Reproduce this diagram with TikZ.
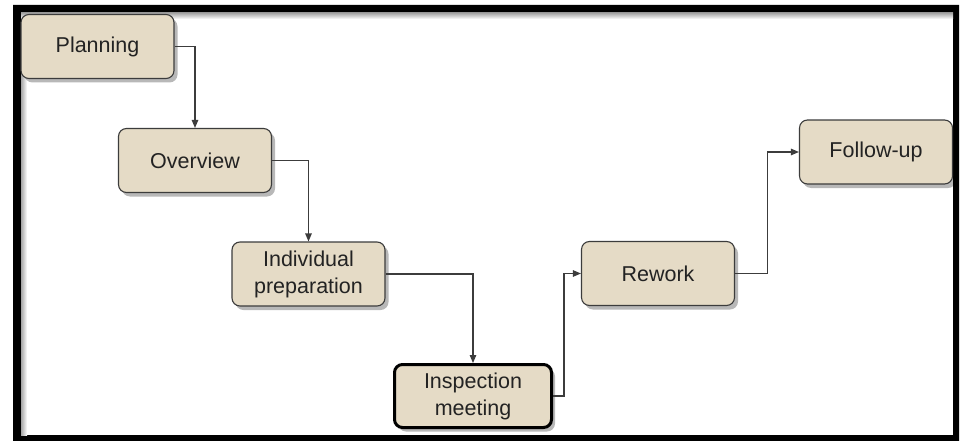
\documentclass[tikz,border=0pt]{standalone}
\usepackage{fontspec}
\setmainfont{Liberation Sans}
\usetikzlibrary{arrows.meta,shadows}
\definecolor{boxfill}{RGB}{229,219,198}
\definecolor{boxline}{RGB}{60,60,60}
\definecolor{txt}{RGB}{35,35,35}
\begin{document}
\begin{tikzpicture}[x=1pt,y=-1pt,
  stagebox/.style={draw=boxline, line width=1.1pt, fill=boxfill, rounded corners=8pt,
    minimum width=153pt, minimum height=64pt, inner sep=0pt, align=center,
    text=txt, font=\fontsize{21.5}{27}\selectfont,
    drop shadow={shadow xshift=3.5pt, shadow yshift=-4pt, fill=black, opacity=0.28}},
  keybox/.style={stagebox, draw=black, line width=3pt, minimum width=157pt, minimum height=63pt},
  flow/.style={draw=boxline, line width=1.1pt, -{Triangle[length=8pt,width=6.5pt]}}]
\useasboundingbox (0,0) rectangle (965,441);
\fill[white] (0,0) rectangle (965,441);
% frame
\fill[black, even odd rule] (13,5) rectangle (959,441) (21,13) rectangle (953,435);
\shade[left color=black!35, right color=white] (21,13) rectangle (27,435);
\shade[top color=black!35, bottom color=white] (21,13) rectangle (953,19);
% stages
\node[stagebox] (plan) at (97.5,46.5) {Planning};
\node[stagebox] (over) at (195,160.5) {Overview};
\node[stagebox] (prep) at (308.5,274) {Individual\\preparation};
\node[keybox] (insp) at (473,396) {Inspection\\meeting};
\node[stagebox] (rework) at (658,273.5) {Rework};
\node[stagebox] (follow) at (876,152) {Follow-up};
% connectors
\draw[flow] (plan.east) -| (over.north);
\draw[flow] (over.east) -| (prep.north);
\draw[flow] (prep.east) -| (insp.north);
\draw[flow] (insp.east) -- ++(11,0) |- (rework.west);
\draw[flow] (rework.east) -- ++(32,0) |- (follow.west);
\end{tikzpicture}
\end{document}
